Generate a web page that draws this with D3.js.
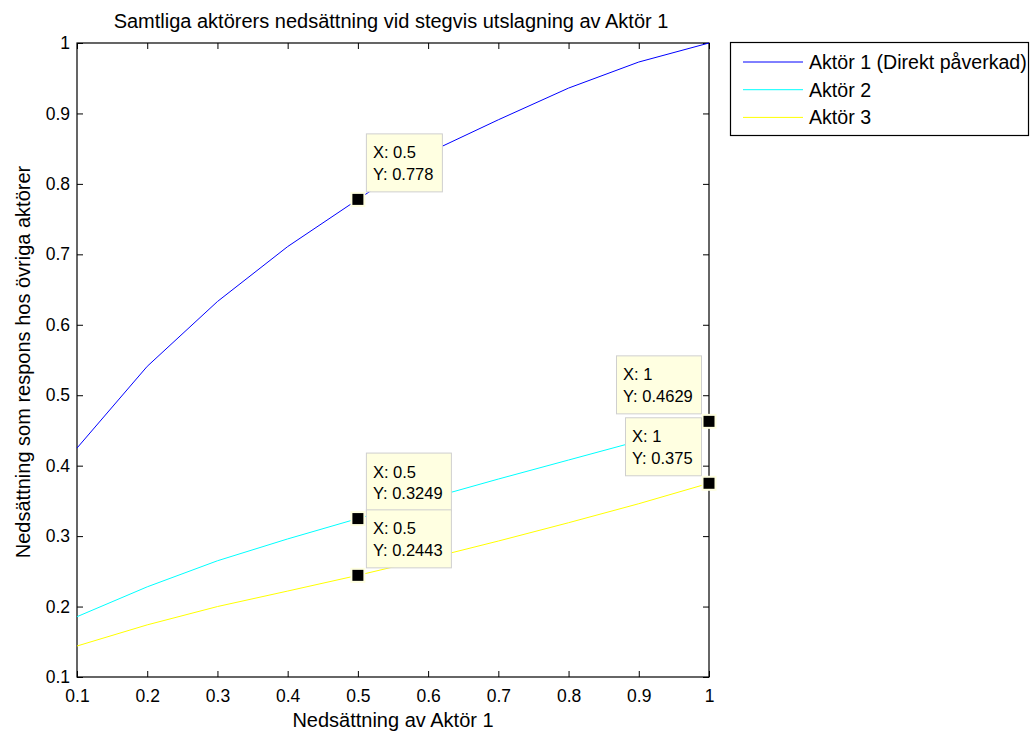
<!DOCTYPE html>
<html>
<head>
<meta charset="utf-8">
<script src="https://cdn.jsdelivr.net/npm/d3@7"></script>
<style>
  html, body { margin: 0; padding: 0; background: #fff; }
  svg { display: block; font-family: "Liberation Sans", Arial, Helvetica, sans-serif; }
  .tip-box { fill: #ffffe1; stroke: #cfcfcf; stroke-width: 1; }
  .tip-text { font-size: 16.5px; fill: #000; }
</style>
</head>
<body>
<svg id="chart"></svg>
<script>
const X_VALUES = [0.1, 0.2, 0.3, 0.4, 0.5, 0.6, 0.7, 0.8, 0.9, 1.0];
const AKTOR_1  = [0.425, 0.541, 0.633, 0.711, 0.778, 0.844, 0.891, 0.936, 0.973, 1.0];
const AKTOR_2  = [0.1856, 0.228, 0.265, 0.296, 0.3249, 0.353, 0.381, 0.408, 0.435, 0.4629];
const AKTOR_3  = [0.144, 0.174, 0.200, 0.222, 0.2443, 0.268, 0.293, 0.319, 0.346, 0.375];

const SERIES_NAMES  = ["Aktör 1 (Direkt påverkad)", "Aktör 2", "Aktör 3"];
const SERIES_COLORS = ["#0000ff", "#00ffff", "#ffff00"];

const TICKS = [0.1, 0.2, 0.3, 0.4, 0.5, 0.6, 0.7, 0.8, 0.9, 1];

// data tips: [x, y, placement]
const TIPS = [
  [0.5, 0.778, "tr"],
  [1, 0.4629, "tl"],
  [1, 0.375, "tl"],
  [0.5, 0.3249, "tr"],
  [0.5, 0.2443, "tr"]
];

const W = 1030, H = 731;
const PLOT = { left: 77, right: 709, top: 43, bottom: 677 };
const TICK_LEN = 6;

const svg = d3.select("#chart").attr("width", W).attr("height", H);

const x = d3.scaleLinear().domain([0.1, 1]).range([PLOT.left, PLOT.right]);
const y = d3.scaleLinear().domain([0.1, 1]).range([PLOT.bottom, PLOT.top]);

function fmt(d) { return d === 1 ? "1" : d3.format(".1f")(d); }

// Axes box (MATLAB style, ticks inward on all sides)
const axes = svg.append("g").attr("class", "axes");

axes.append("g")
  .attr("transform", `translate(0,${PLOT.bottom})`)
  .call(d3.axisBottom(x).tickValues(TICKS).tickFormat(fmt).tickSize(-TICK_LEN).tickPadding(14))
  .call(g => g.selectAll("text").attr("font-size", 17.5).attr("dy", "0.72em").attr("y", 12));

axes.append("g")
  .attr("transform", `translate(0,${PLOT.top})`)
  .call(d3.axisTop(x).tickValues(TICKS).tickFormat("").tickSize(-TICK_LEN));

axes.append("g")
  .attr("transform", `translate(${PLOT.left},0)`)
  .call(d3.axisLeft(y).tickValues(TICKS).tickFormat(fmt).tickSize(-TICK_LEN).tickPadding(7))
  .call(g => g.selectAll("text").attr("font-size", 17.5).attr("x", -7));

axes.append("g")
  .attr("transform", `translate(${PLOT.right},0)`)
  .call(d3.axisRight(y).tickValues(TICKS).tickFormat("").tickSize(-TICK_LEN));

axes.selectAll(".domain").remove();
axes.selectAll("line").attr("stroke", "#000").attr("stroke-width", 1);
axes.selectAll("text").attr("fill", "#000").attr("font-family", null);

svg.append("rect")
  .attr("x", PLOT.left).attr("y", PLOT.top)
  .attr("width", PLOT.right - PLOT.left).attr("height", PLOT.bottom - PLOT.top)
  .attr("fill", "none").attr("stroke", "#000").attr("stroke-width", 1.2);

// Lines
const line = d3.line().x((d, i) => x(X_VALUES[i])).y(d => y(d));
[AKTOR_1, AKTOR_2, AKTOR_3].forEach((vals, i) => {
  svg.append("path")
    .attr("d", line(vals))
    .attr("fill", "none")
    .attr("stroke", SERIES_COLORS[i])
    .attr("stroke-width", 1);
});

// Titles
svg.append("text")
  .attr("x", 391).attr("y", 28)
  .attr("text-anchor", "middle").attr("font-size", 20)
  .text("Samtliga aktörers nedsättning vid stegvis utslagning av Aktör 1");

svg.append("text")
  .attr("x", 393).attr("y", 727)
  .attr("text-anchor", "middle").attr("font-size", 20)
  .text("Nedsättning av Aktör 1");

svg.append("text")
  .attr("transform", `translate(30,${(PLOT.top + PLOT.bottom) / 2 + 2}) rotate(-90)`)
  .attr("text-anchor", "middle").attr("font-size", 20)
  .text("Nedsättning som respons hos övriga aktörer");

// Legend
const legend = svg.append("g").attr("class", "legend");
legend.append("rect")
  .attr("x", 730.5).attr("y", 42.5).attr("width", 298).attr("height", 93)
  .attr("fill", "#fff").attr("stroke", "#000").attr("stroke-width", 1.2);

SERIES_NAMES.forEach((name, i) => {
  const ry = 62 + i * 27.7;
  legend.append("line")
    .attr("x1", 743).attr("x2", 803).attr("y1", ry).attr("y2", ry)
    .attr("stroke", SERIES_COLORS[i]).attr("stroke-width", 1);
  legend.append("text")
    .attr("x", 809).attr("y", ry).attr("dy", "0.36em")
    .attr("font-size", 19.6)
    .text(name);
});

// Data tips
const tipLayer = svg.append("g").attr("class", "tips");
TIPS.forEach(([tx, ty, place]) => {
  const px = x(tx), py = y(ty);
  const g = tipLayer.append("g");
  const rect = g.append("rect").attr("class", "tip-box");
  const t1 = g.append("text").attr("class", "tip-text").text(`X: ${tx}`);
  const t2 = g.append("text").attr("class", "tip-text").text(`Y: ${ty}`);
  const tw = Math.max(t1.node().getComputedTextLength(), t2.node().getComputedTextLength());
  const bw = Math.round(tw + 15), bh = 58;
  const bx = place === "tr" ? px + 8 : px - 8 - bw;
  const by = py - 8 - bh;
  rect.attr("x", bx + 0.5).attr("y", by + 0.5).attr("width", bw).attr("height", bh);
  t1.attr("x", bx + 7).attr("y", by + 19).attr("dy", "0.36em");
  t2.attr("x", bx + 7).attr("y", by + 40.5).attr("dy", "0.36em");

  tipLayer.append("rect")
    .attr("x", px - 6.5).attr("y", py - 6.5).attr("width", 13).attr("height", 13)
    .attr("fill", "#000").attr("stroke", "#ffffe1").attr("stroke-width", 2);
});
</script>
</body>
</html>
